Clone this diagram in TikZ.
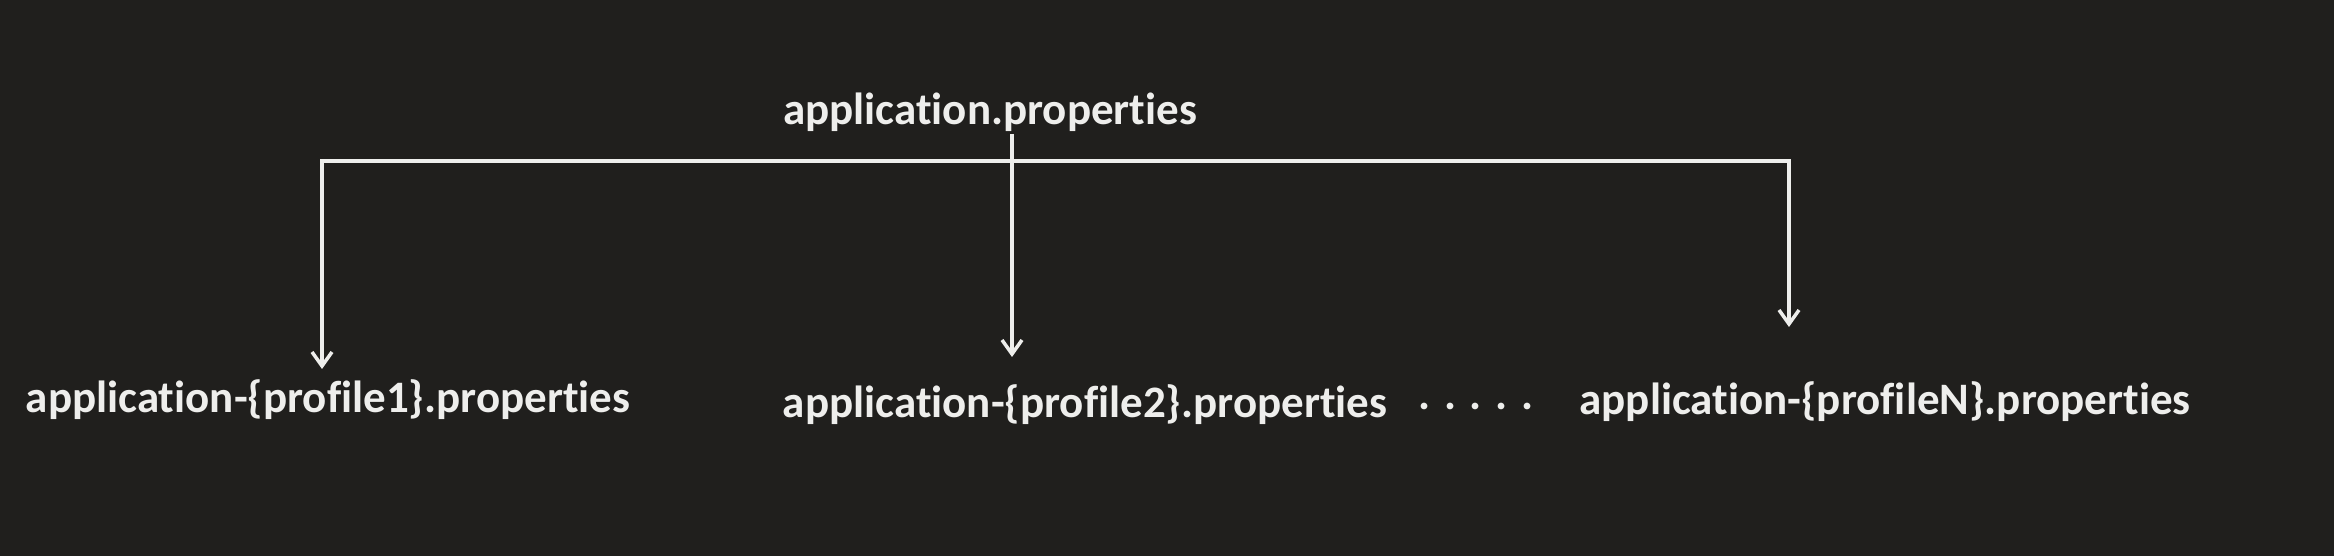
\documentclass[tikz,border=0pt]{standalone}
\usepackage{fontspec}
\setmainfont{Carlito}[Ligatures={NoCommon}]
\usetikzlibrary{arrows.meta}
\definecolor{bgc}{HTML}{201F1D}
\definecolor{fgc}{HTML}{EEEEEC}
\tikzset{
  lbl/.style={inner sep=0pt, text=fgc, font=\fontsize{45}{50}\selectfont\bfseries},
  conn/.style={draw=fgc, line width=4pt, line cap=butt},
  tip/.style={-{Straight Barb[length=14pt,width=20pt,line width=3.5pt]}},
  btip/.style={{Straight Barb[length=14pt,width=20pt,line width=3.5pt]}-{Straight Barb[length=14pt,width=20pt,line width=3.5pt]}}
}
\begin{document}
\begin{tikzpicture}[x=1pt,y=1pt]
  \fill[bgc] (0,0) rectangle (2334,556);
  \useasboundingbox (0,0) rectangle (2334,556);
  \node[lbl] (root) at (990,444) {application.properties};
  \node[lbl] (p1) at (328,156) {application-\{profile1\}.properties};
  \node[lbl] (p2) at (1085,151) {application-\{profile2\}.properties};
  \node[lbl] (dots) at (1476,150) {. . . . .};
  \node[lbl] (pN) at (1885,154) {application-\{profileN\}.properties};
  \coordinate (top) at (1012,422);
  \coordinate (mid) at (1012,199);
  \coordinate (l1) at (322,187);
  \coordinate (lc) at (322,395);
  \coordinate (rc) at (1789,395);
  \coordinate (rN) at (1789,229);
  \draw[conn,tip] (top) -- (mid);
  \draw[conn,btip] (l1) -- (lc) -- (rc) -- (rN);
\end{tikzpicture}
\end{document}
